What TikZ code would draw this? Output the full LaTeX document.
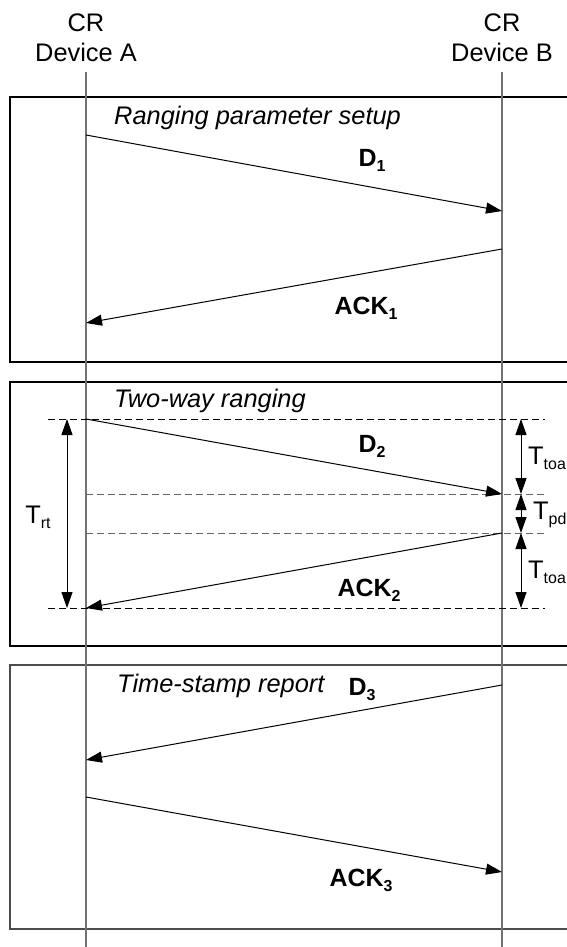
\documentclass[tikz,border=0pt]{standalone}
\usepackage{fontspec}
\setmainfont{Liberation Sans}
\usetikzlibrary{arrows.meta}
\newcommand\mysub[1]{\raisebox{-5bp}{\fontsize{16}{18}\selectfont #1}}
\begin{document}
\begin{tikzpicture}[x=1bp,y=-1bp,
  every node/.style={font=\fontsize{25.5}{30}\selectfont, inner sep=0pt},
  msg/.style={line width=1bp, -{Triangle[length=16bp,width=11bp]}},
  dimarrow/.style={line width=1bp, {Triangle[length=16bp,width=11bp]}-{Triangle[length=16bp,width=11bp]}},
  life/.style={line width=1.6bp, draw=black!55},
  phase/.style={line width=1.2bp, draw=black},
  guide/.style={dash pattern=on 7bp off 4bp, line width=1bp},
  lbl/.style={font=\fontsize{25}{30}\selectfont\bfseries},
  ttl/.style={font=\fontsize{25.5}{30}\selectfont\itshape, anchor=west},
]
\useasboundingbox (0,0) rectangle (567,947);
\clip (0,0) rectangle (567,947);

% phase boxes
\draw[phase] (10,97) rectangle (600,362);
\draw[phase] (10,382) rectangle (600,646);
\draw[phase, draw=black!70] (10,665) rectangle (600,929);

% heads
\node[align=center] (headA) at (86,38) {CR\\Device A};
\node[align=center] (headB) at (502,38) {CR\\Device B};

% lifelines
\coordinate (A0) at (86,72);  \coordinate (A9) at (86,947);
\coordinate (B0) at (502,72); \coordinate (B9) at (502,947);
\draw[life] (A0) -- (A9);
\draw[life] (B0) -- (B9);

% phase titles
\node[ttl] (t1) at (114,118) {Ranging parameter setup};
\node[ttl] (t2) at (114,401) {Two-way ranging};
\node[ttl] (t3) at (117,686) {Time-stamp report};

% message end points
\coordinate (a1) at (86,135);  \coordinate (b1) at (502,211);
\coordinate (b2) at (502,249); \coordinate (a2) at (86,323);
\coordinate (a3) at (86,419);  \coordinate (b3) at (502,494);
\coordinate (b4) at (502,533); \coordinate (a4) at (86,608);
\coordinate (b5) at (502,685); \coordinate (a5) at (86,760);
\coordinate (a6) at (86,797);  \coordinate (b6) at (502,872);

% guide lines
\coordinate (g1l) at (48,419);  \coordinate (g1r) at (545,419);
\coordinate (g2r) at (545,494);
\coordinate (g3r) at (545,533);
\coordinate (g4l) at (48,608);  \coordinate (g4r) at (545,608);
\draw[guide] (g1l) -- (g1r);
\draw[guide, draw=black!60] (a3 |- b3) -- (g2r);
\draw[guide, draw=black!60] (a3 |- b4) -- (g3r);
\draw[guide] (g4l) -- (g4r);

% messages
\draw[msg] (a1) -- (b1);
\draw[msg] (b2) -- (a2);
\draw[msg] (a3) -- (b3);
\draw[msg] (b4) -- (a4);
\draw[msg] (b5) -- (a5);
\draw[msg] (a6) -- (b6);

% message labels
\node[lbl] (l1) at (372,160) {D\mysub{1}};
\node[lbl] (l2) at (366,308) {ACK\mysub{1}};
\node[lbl] (l3) at (372,446) {D\mysub{2}};
\node[lbl] (l4) at (369,590) {ACK\mysub{2}};
\node[lbl] (l5) at (362,690) {D\mysub{3}};
\node[lbl] (l6) at (361,880) {ACK\mysub{3}};

% timing dimensions
\coordinate (r1) at (67,419); \coordinate (r2) at (67,608);
\draw[dimarrow] (r1) -- (r2);
\node (trt) at (38,517) {T\mysub{rt}};

\coordinate (s1) at (521,419); \coordinate (s2) at (521,494);
\coordinate (s3) at (521,533); \coordinate (s4) at (521,608);
\draw[dimarrow] (s1) -- (s2);
\draw[dimarrow] (s2) -- (s3);
\draw[dimarrow] (s3) -- (s4);
\node[anchor=west] (ttoa1) at (528,458) {T\mysub{toa}};
\node[anchor=west] (tpd) at (533,515) {T\mysub{pd}};
\node[anchor=west] (ttoa2) at (528,572) {T\mysub{toa}};
\end{tikzpicture}
\end{document}
